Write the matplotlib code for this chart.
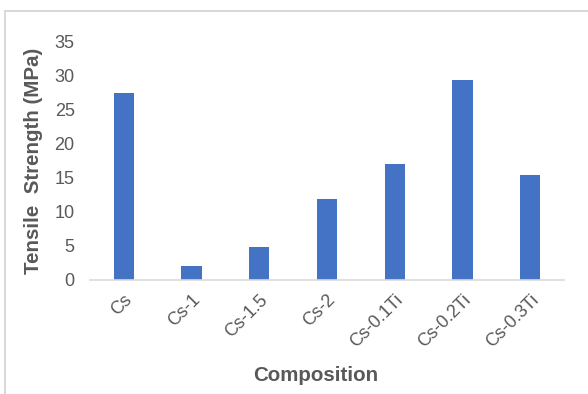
import matplotlib.pyplot as plt
from matplotlib.patches import Rectangle
from matplotlib.transforms import ScaledTranslation

# data
compositions = ["Cs", "Cs-1", "Cs-1.5", "Cs-2", "Cs-0.1Ti", "Cs-0.2Ti", "Cs-0.3Ti"]
tensile_mpa = [27.5, 2.1, 4.8, 11.9, 17.0, 29.4, 15.4]
y_ticks = [0, 5, 10, 15, 20, 25, 30, 35]

plt.rcParams['font.family'] = ['Liberation Sans', 'DejaVu Sans']
text_grey = '#595959'

fig = plt.figure(figsize=(5.88, 3.94), dpi=100)

# light chart-area border (top and left visible, cut off at right/bottom)
fig.patches.append(Rectangle((5 / 588, -0.1), 1.2, 1 - 11 / 394 + 0.1,
                             transform=fig.transFigure, fill=False,
                             edgecolor='#d9d9d9', linewidth=1.5))

ax = fig.add_axes([90 / 588, 1 - 280 / 394, (564 - 90) / 588, (280 - 42) / 394])
ax.bar(range(len(compositions)), tensile_mpa, width=0.3, color='#4472C4')

ax.set_xlim(-0.5, len(compositions) - 0.5)
ax.set_ylim(0, 35)
ax.set_yticks(y_ticks)
ax.set_xticks(range(len(compositions)))
ax.set_xticklabels(compositions, rotation=45, ha='right', rotation_mode='anchor')

# nudge rotated labels so their ends sit just right of the bar centres
shift = ScaledTranslation(7 / 100, 0, fig.dpi_scale_trans)
for lbl in ax.get_xticklabels():
    lbl.set_transform(lbl.get_transform() + shift)

for side in ['top', 'right', 'left']:
    ax.spines[side].set_visible(False)
ax.spines['bottom'].set_color('#d9d9d9')
ax.spines['bottom'].set_linewidth(1.2)

ax.tick_params(axis='both', length=0, labelsize=13, colors=text_grey)
ax.tick_params(axis='y', pad=11)
ax.tick_params(axis='x', pad=8)

ax.set_xlabel("Composition", fontsize=14.8, fontweight='bold', color=text_grey)
ax.set_ylabel("Tensile  Strength (MPa)", fontsize=14.8, fontweight='bold', color=text_grey)
ax.xaxis.set_label_coords(0.477, -0.36)
ax.yaxis.set_label_coords(-0.10, 0.5)

fig.savefig("out.png", dpi=100)
